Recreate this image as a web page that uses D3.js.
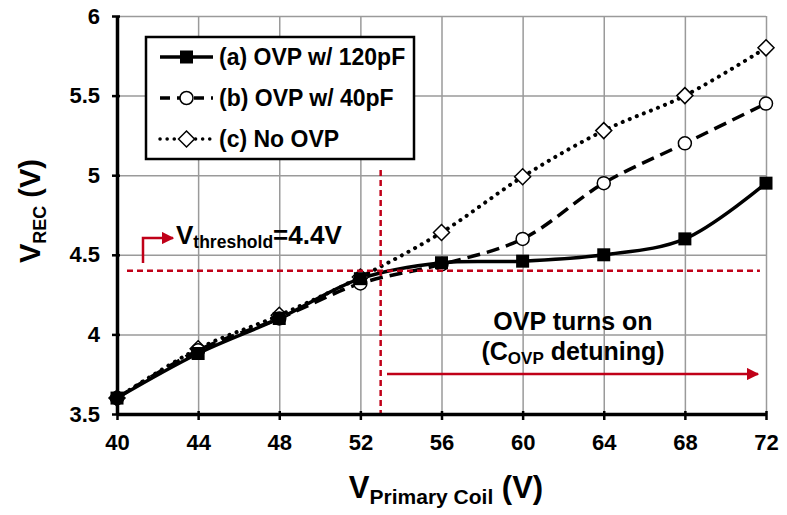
<!DOCTYPE html>
<html><head><meta charset="utf-8">
<script src="https://cdn.jsdelivr.net/npm/d3@7"></script>
<style>
html,body{margin:0;padding:0;background:#fff;}
svg{display:block;font-family:"Liberation Sans",Arial,sans-serif;font-weight:bold;}
</style></head>
<body><svg id="chart" width="787" height="515"></svg>
<script>
const xValues = [40, 44, 48, 52, 56, 60, 64, 68, 72];
const seriesA = [3.6, 3.88, 4.1, 4.35, 4.45, 4.46, 4.5, 4.6, 4.95];   // OVP w/ 120pF
const seriesB = [3.6, 3.9, 4.1, 4.32, 4.44, 4.6, 4.95, 5.2, 5.45];    // OVP w/ 40pF
const seriesC = [3.6, 3.91, 4.12, 4.36, 4.64, 4.99, 5.28, 5.5, 5.8];  // No OVP
const seriesNames = ["(a) OVP w/ 120pF", "(b) OVP w/ 40pF", "(c) No OVP"];
const xTicks = [40, 44, 48, 52, 56, 60, 64, 68, 72];
const yTicks = [3.5, 4, 4.5, 5, 5.5, 6];
const threshold = 4.4;
const thresholdX = 53;

const svg = d3.select("#chart");
const L = 117, T = 16, W = 649, H = 398;
const x = d3.scaleLinear().domain([40, 72]).range([L, L + W]);
const y = d3.scaleLinear().domain([3.5, 6]).range([T + H, T]);
const red = "#c00018";

const defs = svg.append("defs");
defs.append("marker").attr("id", "arr").attr("viewBox", "0 0 10 10")
  .attr("refX", 9).attr("refY", 5).attr("markerWidth", 5).attr("markerHeight", 5)
  .attr("markerUnits", "strokeWidth").attr("orient", "auto")
  .append("path").attr("d", "M0,0L10,5L0,10Z").attr("fill", red);

// gridlines
const gx = svg.append("g").attr("transform", `translate(0,${T + H})`)
  .call(d3.axisBottom(x).tickValues(xTicks).tickSize(-H).tickFormat(""));
gx.select(".domain").remove();
gx.selectAll("line").attr("stroke", "#9a9a9a").attr("stroke-width", 1.5);
const gy = svg.append("g").attr("transform", `translate(${L},0)`)
  .call(d3.axisLeft(y).tickValues(yTicks).tickSize(-W).tickFormat(""));
gy.select(".domain").remove();
gy.selectAll("line").attr("stroke", "#9a9a9a").attr("stroke-width", 1.5);

// series
const line = d3.line().x((d, i) => x(xValues[i])).y(d => y(d)).curve(d3.curveCatmullRom.alpha(0.5));
const series = [
  {vals: seriesA, dash: null, cap: "butt", marker: "square"},
  {vals: seriesB, dash: "13,7", cap: "butt", marker: "circle"},
  {vals: seriesC, dash: "0.1,7.5", cap: "round", marker: "diamond"}
];
function drawMarker(g, type, cx, cy) {
  if (type === "square") {
    g.append("rect").attr("x", cx - 6.5).attr("y", cy - 6.5).attr("width", 13).attr("height", 13).attr("fill", "#000");
  } else if (type === "circle") {
    g.append("circle").attr("cx", cx).attr("cy", cy).attr("r", 6.5).attr("fill", "#fff").attr("stroke", "#000").attr("stroke-width", 1.5);
  } else {
    g.append("path").attr("d", `M${cx},${cy - 8}L${cx + 8},${cy}L${cx},${cy + 8}L${cx - 8},${cy}Z`)
      .attr("fill", "#fff").attr("stroke", "#000").attr("stroke-width", 1.5);
  }
}
[2, 1, 0].forEach(k => {
  const s = series[k];
  svg.append("path").datum(s.vals).attr("d", line).attr("fill", "none").attr("stroke", "#000")
    .attr("stroke-width", s.marker === "diamond" ? 4 : 3.5).attr("stroke-dasharray", s.dash).attr("stroke-linecap", s.cap);
});
[2, 1, 0].forEach(k => {
  const s = series[k];
  const g = svg.append("g");
  s.vals.forEach((v, i) => drawMarker(g, s.marker, x(xValues[i]), y(v)));
});

// red annotations
svg.append("line").attr("x1", L + 10).attr("x2", x(71.7)).attr("y1", y(threshold)).attr("y2", y(threshold))
  .attr("stroke", red).attr("stroke-width", 2.5).attr("stroke-dasharray", "6,4");
svg.append("line").attr("x1", x(thresholdX)).attr("x2", x(thresholdX)).attr("y1", 170).attr("y2", T + H)
  .attr("stroke", red).attr("stroke-width", 2.5).attr("stroke-dasharray", "6,4");
svg.append("path").attr("d", `M143,263V238H173`).attr("fill", "none").attr("stroke", red)
  .attr("stroke-width", 2.5).attr("marker-end", "url(#arr)");
svg.append("line").attr("x1", 387).attr("x2", 758).attr("y1", 374).attr("y2", 374)
  .attr("stroke", red).attr("stroke-width", 2.5).attr("marker-end", "url(#arr)");

// threshold text
const tt = svg.append("text").attr("x", 176).attr("y", 244).attr("font-size", 26).attr("fill", "#000");
tt.append("tspan").text("V");
tt.append("tspan").attr("font-size", 17.5).attr("dy", 4).text("threshold");
tt.append("tspan").attr("dy", -4).text("=4.4V");

// OVP text
svg.append("text").attr("x", 573).attr("y", 330).attr("text-anchor", "middle").attr("font-size", 25).text("OVP turns on");
const ot = svg.append("text").attr("x", 573).attr("y", 360).attr("text-anchor", "middle").attr("font-size", 25);
ot.append("tspan").text("(C");
ot.append("tspan").attr("font-size", 17).attr("dy", 4).text("OVP");
ot.append("tspan").attr("dy", -4).text(" detuning)");

// axes
const ax = svg.append("g").attr("transform", `translate(0,${T + H})`)
  .call(d3.axisBottom(x).tickValues(xTicks).tickSizeInner(6).tickSizeOuter(0).tickPadding(14).tickFormat(d3.format("d")));
ax.select(".domain").attr("stroke", "#000").attr("stroke-width", 3.5);
ax.selectAll(".tick line").attr("stroke", "#000").attr("stroke-width", 2.5).attr("y1", -3);
ax.selectAll(".tick text").attr("font-size", 22).attr("font-family", "Liberation Sans, Arial, sans-serif").attr("font-weight", "bold").attr("fill", "#000");
const ay = svg.append("g").attr("transform", `translate(${L},0)`)
  .call(d3.axisLeft(y).tickValues(yTicks).tickSizeInner(5).tickSizeOuter(0).tickPadding(12).tickFormat(d => d));
ay.select(".domain").attr("stroke", "#000").attr("stroke-width", 3.5);
ay.selectAll(".tick line").attr("stroke", "#000").attr("stroke-width", 2.5).attr("x1", 3);
ay.selectAll(".tick text").attr("font-size", 22).attr("font-family", "Liberation Sans, Arial, sans-serif").attr("font-weight", "bold").attr("fill", "#000");

// axis titles
const xt = svg.append("text").attr("x", 446).attr("y", 498).attr("text-anchor", "middle").attr("font-size", 31);
xt.append("tspan").text("V");
xt.append("tspan").attr("font-size", 21).attr("dy", 6).text("Primary Coil");
xt.append("tspan").attr("dy", -6).text(" (V)");
const yt = svg.append("text").attr("transform", "translate(40,211) rotate(-90)").attr("text-anchor", "middle").attr("font-size", 29);
yt.append("tspan").text("V");
yt.append("tspan").attr("font-size", 18).attr("dy", 6).text("REC");
yt.append("tspan").attr("dy", -6).text(" (V)");

// legend
const lg = svg.append("g");
lg.append("rect").attr("x", 146).attr("y", 37).attr("width", 268).attr("height", 122)
  .attr("fill", "#fff").attr("stroke", "#000").attr("stroke-width", 2.5);
const rowY = [57, 98, 139];
series.forEach((s, k) => {
  lg.append("line").attr("x1", 160).attr("x2", 213).attr("y1", rowY[k]).attr("y2", rowY[k])
    .attr("stroke", "#000").attr("stroke-width", 3.5)
    .attr("stroke-dasharray", k === 0 ? null : (k === 1 ? "10,7" : "0.1,7"))
    .attr("stroke-linecap", s.cap);
  drawMarker(lg, s.marker, 186.5, rowY[k]);
  lg.append("text").attr("x", 219).attr("y", rowY[k] + 8).attr("font-size", 23).text(seriesNames[k]);
});
</script></body></html>
